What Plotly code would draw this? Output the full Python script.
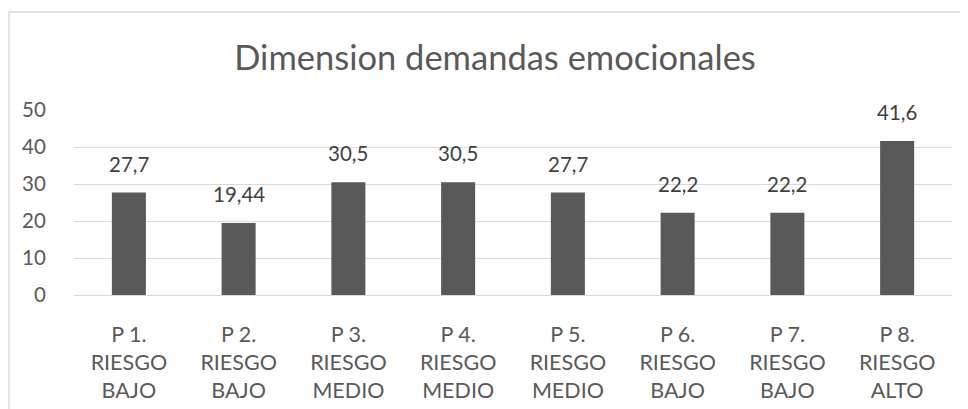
import plotly.graph_objects as go

categories = ["P 1.<br>RIESGO<br>BAJO", "P 2.<br>RIESGO<br>BAJO", "P 3.<br>RIESGO<br>MEDIO",
              "P 4.<br>RIESGO<br>MEDIO", "P 5.<br>RIESGO<br>MEDIO", "P 6.<br>RIESGO<br>BAJO",
              "P 7.<br>RIESGO<br>BAJO", "P 8.<br>RIESGO<br>ALTO"]
values = [27.7, 19.44, 30.5, 30.5, 27.7, 22.2, 22.2, 41.6]
value_labels = ["27,7", "19,44", "30,5", "30,5", "27,7", "22,2", "22,2", "41,6"]
y_ticks = [0, 10, 20, 30, 40, 50]
title_text = "Dimension demandas emocionales"

FONT = "Lato"
GRAY = "#595959"
OFF = 8  # default page body margin

fig = go.Figure()
fig.add_trace(go.Bar(x=categories, y=values, marker=dict(color=GRAY, line=dict(width=0)),
                     hoverinfo="skip"))

for c, v, t in zip(categories, values, value_labels):
    fig.add_annotation(x=c, y=v, text=t, showarrow=False, yanchor="bottom", yshift=15,
                       font=dict(family=FONT, size=20.5, color="#404040"))

ml, mt = 74 - OFF, 110 - OFF
mr, mb = 968 - (952 - OFF), 409 - (295 - OFF)
pw, ph = 968 - ml - mr, 409 - mt - mb

fig.update_layout(
    width=968, height=409,
    margin=dict(l=ml, r=mr, t=mt, b=mb),
    paper_bgcolor="white", plot_bgcolor="white",
    bargap=0.69,
    showlegend=False,
    title=dict(text=title_text, x=(495 - OFF) / 968, xref="container", xanchor="center",
               y=1 - 50 / 409, yref="container", yanchor="middle",
               font=dict(family=FONT, size=34.5, color=GRAY)),
    font=dict(family=FONT, size=20.5, color=GRAY),
    xaxis=dict(showgrid=False, showline=False, zeroline=False, ticks="outside", ticklen=0,
               automargin=False,
               ticklabelstandoff=20, tickfont=dict(family=FONT, size=21.5, color=GRAY)),
    yaxis=dict(range=[0, 50], tickvals=y_ticks, showgrid=True, gridcolor="#d9d9d9", gridwidth=1,
               zeroline=True, zerolinecolor="#d9d9d9", zerolinewidth=1, showline=False,
               automargin=False,
               ticks="outside", ticklen=0, ticklabelstandoff=23,
               tickfont=dict(family=FONT, size=20.5, color=GRAY)),
    shapes=[dict(type="rect", xref="paper", yref="paper",
                 x0=(9 - OFF - ml) / pw, x1=1.2, y0=-1.5, y1=1 + (mt - (12 - OFF)) / ph,
                 line=dict(color="#d9d9d9", width=1.3), fillcolor="rgba(0,0,0,0)", layer="below")],
)

fig.write_html("out.html")
